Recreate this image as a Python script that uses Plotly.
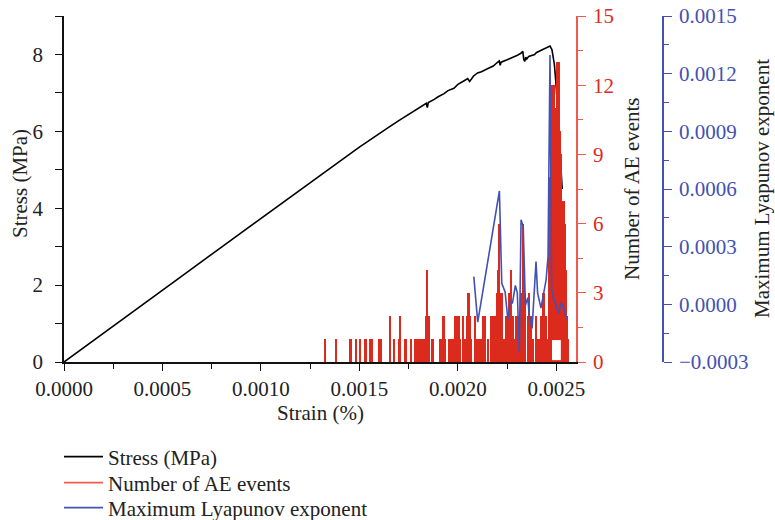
import plotly.graph_objects as go

# ---------------- data ----------------
stress_strain = [0, 0.0002, 0.0004, 0.0006, 0.0008, 0.0010, 0.0012, 0.0014, 0.0015, 0.0016,
                 0.00165, 0.0017, 0.00175, 0.0018, 0.00183, 0.00184, 0.001845, 0.00185, 0.00188,
                 0.0019, 0.00193, 0.00195, 0.00198, 0.0020, 0.00203, 0.00205, 0.00206, 0.00208,
                 0.0021, 0.00212, 0.00215, 0.00218, 0.0022, 0.00221, 0.002215, 0.00222, 0.00225,
                 0.00227, 0.00228, 0.0023, 0.00232, 0.00233, 0.002335, 0.00234, 0.002345, 0.00235,
                 0.00236, 0.00237, 0.00239, 0.0024, 0.00242, 0.00244, 0.00246, 0.002468, 0.002478,
                 0.00249, 0.002498, 0.002507, 0.002515, 0.002524, 0.00253]
stress_mpa = [0, 0.74, 1.49, 2.24, 2.99, 3.74, 4.48, 5.22, 5.59, 5.95,
              6.11, 6.28, 6.44, 6.6, 6.69, 6.73, 6.62, 6.75, 6.83,
              6.9, 6.98, 7.06, 7.12, 7.22, 7.31, 7.37, 7.30, 7.44,
              7.52, 7.55, 7.63, 7.7, 7.79, 7.83, 7.72, 7.80, 7.86,
              7.9, 7.93, 7.97, 8.03, 8.08, 7.86, 7.82, 7.93, 7.88,
              7.95, 7.97, 8.0, 8.05, 8.1, 8.16, 8.2, 8.22, 8.12,
              7.75, 7.26, 6.6, 6.0, 5.0, 4.5]

ae_strain = [0.001324, 0.001383, 0.00145, 0.001455, 0.001481, 0.001501, 0.001531, 0.001552,
             0.001565, 0.001602, 0.001611, 0.001657, 0.001675, 0.0017, 0.001707, 0.001734,
             0.001763, 0.001785, 0.001797, 0.001809, 0.001816, 0.001822, 0.001828, 0.001836,
             0.001843, 0.001853, 0.00187, 0.001876, 0.00191, 0.00192, 0.001927, 0.001937,
             0.001957, 0.001966, 0.001978, 0.001988, 0.001996, 0.002005, 0.002011, 0.002028,
             0.002039, 0.002047, 0.002054, 0.00206, 0.002067, 0.002089, 0.002098, 0.00211,
             0.002118, 0.00213, 0.002138, 0.002155, 0.002169, 0.002177, 0.002186, 0.002194,
             0.002201, 0.002206, 0.002211, 0.002218, 0.002225, 0.002236, 0.002245, 0.002253,
             0.002262, 0.00227, 0.002279, 0.002287, 0.002296, 0.002304, 0.002312, 0.002321,
             0.002329, 0.002335, 0.002341, 0.002355, 0.002363, 0.002372, 0.00238, 0.002397,
             0.002405, 0.002414, 0.002422, 0.002431, 0.002439, 0.002448, 0.002456, 0.002465,
             0.00247, 0.002478, 0.002484, 0.00249, 0.002496, 0.002503, 0.002509, 0.002515,
             0.00252, 0.002526, 0.002532, 0.002538, 0.002544, 0.00255, 0.002556, 0.00256]
ae_count = [1, 1, 1, 1, 1, 1, 1, 1,
            1, 1, 1, 2, 1, 1, 2, 1,
            1, 1, 1, 1, 1, 1, 1, 2,
            4, 2, 1, 1, 1, 1, 2, 1,
            1, 1, 1, 2, 2, 2, 1, 2,
            1, 2, 3, 2, 1, 2, 1, 1,
            1, 2, 2, 1, 2, 2, 2, 1,
            3, 4, 6, 3, 3, 1, 2, 2,
            3, 4, 2, 1, 2, 2, 1, 3,
            6, 4, 3, 2, 3, 2, 1, 2,
            1, 1, 2, 3, 3, 2, 1, 8,
            8, 12, 11, 12, 11, 13, 13, 13,
            10, 9, 7, 7, 6, 4, 2, 1]

lya_strain = [0.002081, 0.002101, 0.002211, 0.002223, 0.00224, 0.002254, 0.002266, 0.002277,
              0.002292, 0.002302, 0.002312, 0.002321, 0.002332, 0.002343, 0.002355, 0.002363,
              0.002377, 0.002397, 0.002405, 0.002422, 0.002448, 0.002458, 0.002468, 0.002476,
              0.002485, 0.002499, 0.002512, 0.002524, 0.002536, 0.002549, 0.002555]
lya_value = [0.000144, -0.000093, 0.000590, 0.000109, 0.000065, -0.000080, 0.000015, 0.000005,
             0.000098, 0.000060, -0.000250, 0.000440, 0.000405, -0.000005, 0.000035, -0.000060,
             -0.000125, 0.000222, 0.000060, -0.000020, 0.000126, 0.000248, 0.001297, 0.000080,
             0.000035, -0.000012, -0.000047, 0.000008, -0.000015, -0.000058, -0.000073]

# ---------------- styles ----------------
W, H = 775, 520
X0, X1 = 64, 576          # plot area in pixels
Y0, Y1 = 16, 362
BLUE_POS = 663
FONT = "Liberation Serif"
FS = 21
TXT = "#222"
RED = "#dc2a1c"
RED_AX = "#ee5a4c"
BLUE = "#4351b4"


def ypaper(py):
    return (Y1 - py) / (Y1 - Y0)


fig = go.Figure()
fig.add_trace(go.Scatter(x=stress_strain, y=stress_mpa, mode="lines", name="Stress (MPa)",
                         line=dict(color="black", width=1.6), yaxis="y", legend="legend"))
fig.add_trace(go.Bar(x=ae_strain, y=ae_count, width=0.0000105, marker=dict(color=RED, line=dict(width=0)),
                     name="Number of AE events", showlegend=False, yaxis="y2"))
fig.add_trace(go.Scatter(x=[None], y=[None], mode="lines", name="Number of AE events",
                         line=dict(color=RED_AX, width=1.6), yaxis="y2", legend="legend2"))
fig.add_trace(go.Scatter(x=lya_strain, y=lya_value, mode="lines", name="Maximum Lyapunov exponent",
                         line=dict(color=BLUE, width=1.6), yaxis="y3", legend="legend3"))

tickfont = dict(family=FONT, size=FS, color=TXT)


def leg(py):
    return dict(x=59 / W, y=ypaper(py), xanchor="left", yanchor="middle", itemwidth=39,
                font=dict(family=FONT, size=FS, color=TXT), bgcolor="rgba(0,0,0,0)")


fig.update_layout(
    width=W, height=H,
    margin=dict(l=0, r=0, t=Y0, b=H - Y1, autoexpand=False),
    paper_bgcolor="white", plot_bgcolor="white",
    font=dict(family=FONT, size=FS, color=TXT),
    showlegend=True,
    legend=leg(457), legend2=leg(483), legend3=leg(508),
    bargap=0,
    xaxis=dict(domain=[X0 / W, X1 / W], range=[0, 0.0026], dtick=0.0005, tick0=0,
               tickformat=".4f", showgrid=False, zeroline=False, showline=True,
               linecolor="#111", linewidth=1.5, ticks="outside", ticklen=7, tickwidth=1.2,
               tickcolor="#111", tickfont=tickfont, automargin=False,
               minor=dict(dtick=0.00025, ticks="outside", ticklen=5, tickcolor="#111", tickwidth=1.2)),
    yaxis=dict(range=[0, 9], dtick=2, showgrid=False, zeroline=False, showline=True,
               linecolor="#111", linewidth=1.5, ticks="outside", ticklen=7, tickwidth=1.2,
               tickcolor="#111", tickfont=tickfont, automargin=False, ticklabelstandoff=8,
               minor=dict(dtick=1, ticks="outside", ticklen=7, tickcolor="#111", tickwidth=1.2)),
    yaxis2=dict(range=[0, 15], dtick=3, overlaying="y", side="right", anchor="x",
                showgrid=False, zeroline=False, showline=True, linecolor=RED_AX, linewidth=1.5,
                ticks="outside", ticklen=8, tickwidth=1.2, tickcolor=RED_AX,
                tickfont=dict(family=FONT, size=FS, color=RED), automargin=False, ticklabelstandoff=3,
                minor=dict(dtick=1.5, ticks="outside", ticklen=5, tickcolor=RED_AX, tickwidth=1.2)),
    yaxis3=dict(range=[-0.0003, 0.0015], dtick=0.0003, tick0=0, tickformat=".4f", overlaying="y",
                side="right", anchor="free", position=BLUE_POS / W,
                showgrid=False, zeroline=False, showline=True, linecolor=BLUE, linewidth=1.5,
                ticks="outside", ticklen=8, tickwidth=1.2, tickcolor=BLUE,
                tickfont=dict(family=FONT, size=FS, color=BLUE), automargin=False, ticklabelstandoff=3,
                minor=dict(dtick=0.00015, ticks="outside", ticklen=5, tickcolor=BLUE, tickwidth=1.2)),
)

# white gap at the base of the AE bars near the peak
fig.add_shape(type="rect", xref="x", yref="y2", x0=0.002478, x1=0.002523, y0=0.08, y1=0.95,
              fillcolor="white", line=dict(width=0), layer="above")

ann = dict(xref="paper", yref="paper", showarrow=False, xanchor="center", yanchor="middle",
           borderpad=0, font=dict(family=FONT, size=FS, color=TXT))
fig.add_annotation(text="Stress (MPa)", x=20 / W, y=ypaper(184), textangle=-90, **ann)
fig.add_annotation(text="Number of AE events", x=632 / W, y=ypaper(189), textangle=-90, **ann)
fig.add_annotation(text="Maximum Lyapunov exponent", x=762 / W, y=ypaper(189), textangle=-90, **ann)
fig.add_annotation(text="Strain (%)", x=320 / W, y=ypaper(413), **ann)

fig.write_html("out.html")
